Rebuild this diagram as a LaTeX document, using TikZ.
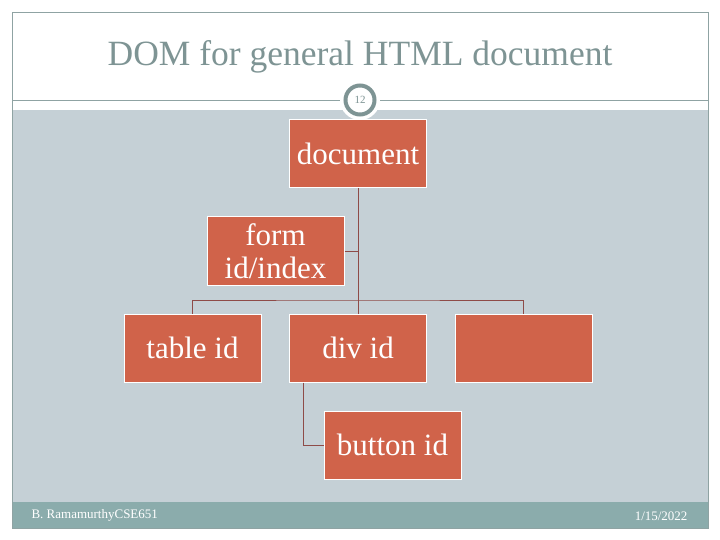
\documentclass[tikz,border=0pt]{standalone}
\usepackage{fontspec}
\setmainfont{Liberation Serif}
\definecolor{boxfill}{HTML}{D0634A}
\definecolor{linkcol}{HTML}{8E4B48}
\definecolor{bggray}{HTML}{C5D0D6}
\definecolor{titlecol}{HTML}{7E9494}
\definecolor{footcol}{HTML}{8BACAC}
\definecolor{framecol}{HTML}{8FA3A3}
\tikzset{
  treebox/.style={draw=white, line width=1pt, fill=boxfill, text=white, minimum width=137pt, minimum height=68pt, inner sep=0pt, align=center, font=\fontsize{31}{33}\selectfont},
  link/.style={draw=linkcol, line width=1pt}
}
\begin{document}
\begin{tikzpicture}[x=1pt,y=-1pt]
\useasboundingbox (0,0) rectangle (720,540);
\fill[white] (0,0) rectangle (720,540);
% gray content area
\fill[bggray] (12,110) rectangle (708,502);
% footer band
\fill[footcol] (12,502) rectangle (708,528);
% frame
\draw[framecol, line width=0.8pt] (12,12) rectangle (708,528);
% title
\node[text=titlecol, font=\fontsize{35.5}{36}\selectfont] (title) at (360,57) {DOM for general HTML document};
% separator line
\draw[framecol, line width=0.8pt] (12,100) -- (708,100);
% page number circle
\node[circle, fill=white, minimum size=40pt, inner sep=0pt] (halo) at (360,100) {};
\node[circle, draw=titlecol, line width=4pt, fill=white, minimum size=29pt, inner sep=0pt, text=titlecol, font=\fontsize{11}{11}\selectfont] (pg) at (360,100) {12};
% boxes
\node[treebox] (doc) at (358,154) {document};
\node[treebox] (form) at (275.5,251) {form\\id/index};
\node[treebox] (table) at (192.5,348) {table id};
\node[treebox] (div) at (358,348) {div id};
\node[treebox] (empty) at (523.5,348) {};
\node[treebox] (button) at (392.5,445) {button id};
% connectors
\coordinate (hub) at (358,300);
\draw[link] (doc.south) -- (hub);
\draw[link] (form.east) -- (form.east -| doc.south);
\draw[link] (table.north) |- (hub) -| (empty.north);
\draw[link] (hub) -- (div.north);
\draw[link] ([xshift=-55pt]div.south) |- (button.west);
% footer text
\node[anchor=west, text=white, font=\fontsize{13}{13}\selectfont] (auth) at (28,515) {B. RamamurthyCSE651};
\node[anchor=east, text=white, font=\fontsize{13}{13}\selectfont] (date) at (691,516) {1/15/2022};
\end{tikzpicture}
\end{document}
